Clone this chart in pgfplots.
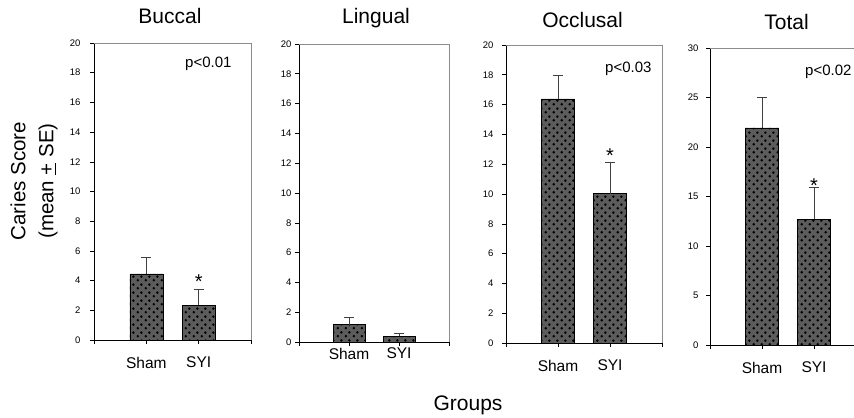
\documentclass[border=0pt]{standalone}
\usepackage{fontspec}
\setmainfont{Liberation Sans}
\usepackage{pgfplots}
\pgfplotsset{compat=1.18}
\usetikzlibrary{patterns.meta}

\tikzdeclarepattern{
  name=bigdots,
  type=uncolored,
  bounding box={(0,0) and (8bp,8bp)},
  tile size={(8bp,8bp)},
  code={
    \fill (2bp,2bp) circle (1.5bp);
    \fill (6bp,6bp) circle (1.5bp);
  }
}

\newcommand{\fs}[1]{\fontsize{#1}{#1}\selectfont}
\tikzset{boxframe/.style={black!45, line width=0.5pt}}

\pgfplotsset{
  caries/.style={
    scale only axis, anchor=south west,
    axis x line*=bottom, axis y line*=left,
    axis line style={black, line width=0.6pt},
    xmin=0, xmax=3, ymin=0,
    xtick={0,1,2,3}, xticklabels={,Sham,SYI,},
    tick align=outside, major tick length=4bp,
    tick style={black, line width=0.6pt},
    yticklabel style={font=\fs{9.5bp}},
    xticklabel style={font=\fs{15.5bp}, yshift=-9.5bp},
    /pgf/number format/assume math mode=true,
    bar width=0.63,
    title style={font=\fs{21bp}, at={(0.5,1)}, anchor=base},
    clip=false,
  },
  cbar/.style={ybar, draw=black, line width=0.5pt, fill=black!64,
    postaction={pattern=bigdots, pattern color=black},
    error bars/.cd, y dir=plus, y explicit,
    error bar style={line width=0.6pt, black!75},
    error mark options={rotate=90, line width=0.6pt, black!75, mark size=5bp}},
}

\begin{document}
\begin{tikzpicture}[x=1bp,y=1bp]
\path[use as bounding box] (0,0) rectangle (854,417);

% Buccal
\begin{axis}[caries, at={(94bp,77bp)}, width=157bp, height=297bp,
  ymax=20, ytick={0,2,...,20}, title={Buccal}, title style={yshift=13.4bp, xshift=-2.5bp},
  yticklabel style={xshift=-6bp}]
\addplot[cbar] coordinates {(1,4.45) +- (0,1.12) (2,2.34) +- (0,1.07)};
\draw[boxframe] (rel axis cs:0,1) -- (rel axis cs:1,1) -- (rel axis cs:1,0);
\node[anchor=north west, inner sep=0, font=\fs{15bp}, xshift=91bp, yshift=-14bp] at (rel axis cs:0,1) {p<0.01};
\node[font=\fs{20bp}, yshift=8bp] at (axis cs:2,3.41) {*};
\end{axis}

% Lingual
\begin{axis}[caries, at={(299bp,75bp)}, width=150bp, height=298bp,
  ymax=20, ytick={0,2,...,20}, title={Lingual}, title style={yshift=14.4bp, xshift=2bp},
  yticklabel style={xshift=0bp}, xticklabel style={yshift=11bp}]
\addplot[cbar] coordinates {(1,1.17) +- (0,0.47) (2,0.40) +- (0,0.16)};
\draw[boxframe] (rel axis cs:0,1) -- (rel axis cs:1,1) -- (rel axis cs:1,0);
\end{axis}

% Occlusal
\begin{axis}[caries, at={(506bp,74bp)}, width=156bp, height=298bp,
  ymax=20, ytick={0,2,...,20}, title={Occlusal}, title style={yshift=12bp, xshift=-1.5bp},
  yticklabel style={xshift=-5bp}]
\addplot[cbar] coordinates {(1,16.39) +- (0,1.6) (2,10.02) +- (0,2.11)};
\draw[boxframe] (rel axis cs:0,1) -- (rel axis cs:1,1) -- (rel axis cs:1,0);
\node[anchor=north west, inner sep=0, font=\fs{15bp}, xshift=99bp, yshift=-17bp] at (rel axis cs:0,1) {p<0.03};
\node[font=\fs{20bp}, yshift=7bp] at (axis cs:2,12.13) {*};
\end{axis}

% Total
\begin{axis}[caries, at={(710bp,72bp)}, width=156bp, height=297bp,
  ymax=30, ytick={0,5,...,30}, title={Total}, title style={yshift=12.7bp, xshift=-1.5bp},
  yticklabel style={xshift=-4bp}]
\addplot[cbar] coordinates {(1,21.93) +- (0,3.09) (2,12.68) +- (0,3.29)};
\draw[boxframe] (rel axis cs:0,1) -- (rel axis cs:1,1) -- (rel axis cs:1,0);
\node[anchor=north west, inner sep=0, font=\fs{15bp}, xshift=95bp, yshift=-17bp] at (rel axis cs:0,1) {p<0.02};
\node[font=\fs{20bp}, yshift=1bp] at (axis cs:2,15.97) {*};
\end{axis}

\node[rotate=90, align=center, font=\fontsize{20.5bp}{28bp}\selectfont] at (34,236) {Caries Score\\(mean \underline{+} SE)};
\node[anchor=base, font=\fs{21bp}] at (468,7) {Groups};
\end{tikzpicture}
\end{document}
